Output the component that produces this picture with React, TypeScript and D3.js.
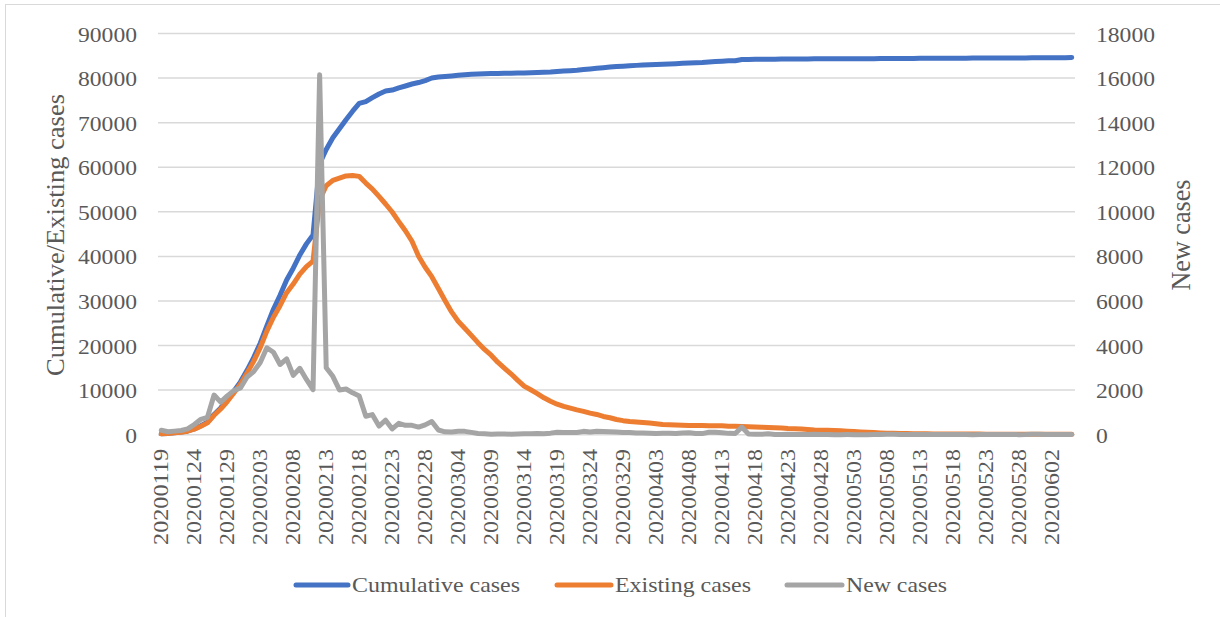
import React from "react";
import * as d3 from "d3";

// ---- data ----
const startDate = Date.UTC(2020, 0, 19);
const endDate = Date.UTC(2020, 5, 6);
const fmt = d3.utcFormat("%Y%m%d");
const categories: string[] = d3.utcDay.range(new Date(startDate), new Date(endDate)).map((d) => fmt(d));

const cumulativeCases = [
  200, 295, 445, 580, 845, 1300, 2000, 2775, 4550, 6010, 7760, 9750, 11860, 14450, 17290, 20530, 24430, 28130, 31290, 34690, 37350, 40330, 42810, 44830,
  60800, 64000, 66610, 68620, 70670, 72570, 74320, 74720, 75610, 76440, 77090, 77310, 77820, 78230, 78670, 79000, 79440, 80010, 80220,
  80350, 80480, 80620, 80770, 80870, 80920, 80970, 81000, 81030, 81060, 81090, 81120, 81160, 81200, 81250, 81290, 81360, 81470, 81570, 81670,
  81770, 81920, 82040, 82190, 82330, 82460, 82580, 82670, 82770, 82850, 82930, 83000, 83050, 83110, 83170, 83220, 83300, 83390, 83440, 83490,
  83600, 83710, 83800, 83860, 83900, 84160, 84190, 84210, 84220, 84240, 84250, 84260, 84275, 84285, 84295, 84305, 84320, 84325, 84335, 84340,
  84345, 84350, 84352, 84355, 84358, 84362, 84368, 84385, 84400, 84405, 84412, 84418, 84425, 84433, 84442, 84450, 84457, 84463, 84468, 84474,
  84477, 84485, 84495, 84502, 84507, 84511, 84517, 84520, 84526, 84545, 84562, 84570, 84574, 84583, 84587, 84594,
];

const existingCases = [
  200, 290, 420, 540, 790, 1230, 1900, 2650, 4350, 5760, 7450, 9350, 11350, 13850, 16450, 19550, 23250, 26350, 28950, 31850, 33800, 36000, 37700, 38950,
  52650, 55850, 57050, 57550, 58050, 58150, 57950, 56450, 55100, 53450, 51750, 49950, 47800, 45750, 43400, 40050, 37550, 35450, 32800,
  30100, 27550, 25450, 23880, 22280, 20640, 19130, 17840, 16270, 14960, 13660, 12240, 10890, 10070, 9220, 8270, 7500, 6850, 6350, 5950,
  5570, 5240, 4840, 4540, 4100, 3810, 3410, 3150, 2950, 2830, 2720, 2610, 2470, 2290, 2220, 2160, 2110, 2080, 2050, 2060,
  2000, 2020, 1980, 1910, 1900, 1830, 1790, 1720, 1680, 1620, 1560, 1500, 1390, 1350, 1290, 1180, 1070, 1010, 980, 930,
  860, 770, 700, 620, 540, 470, 400, 350, 300, 270, 250, 230, 210, 190, 180, 170, 160, 150, 145, 140,
  135, 130, 125, 120, 115, 110, 105, 100, 100, 95, 105, 105, 100, 100, 100, 100,
];

const newCases = [
  200, 130, 160, 190, 260, 460, 690, 780, 1780, 1460, 1740, 1980, 2100, 2590, 2830, 3240, 3900, 3700, 3150, 3400, 2660, 2980, 2480, 2020,
  16150, 3000, 2620, 2010, 2050, 1880, 1740, 830, 900, 390, 650, 260, 510, 420, 420, 340, 440, 590, 210,
  130, 125, 150, 150, 105, 55, 45, 25, 35, 30, 25, 30, 40, 40, 50, 40, 70, 110, 100, 100,
  100, 150, 120, 150, 140, 130, 120, 100, 100, 80, 80, 70, 50, 60, 60, 50, 80, 90, 50, 50,
  110, 110, 90, 60, 50, 340, 30, 20, 15, 40, 12, 10, 15, 12, 5, 8, 25, 5, 12, 3,
  3, 4, 3, 2, 3, 5, 6, 16, 18, 4, 9, 5, 6, 8, 12, 9, 8, 7, 5, 6,
  3, 8, 12, 9, 5, 4, 6, 3, 6, 20, 18, 8, 4, 9, 4, 7,
];

const leftTicks = [0, 10000, 20000, 30000, 40000, 50000, 60000, 70000, 80000, 90000];
const rightTicks = [0, 2000, 4000, 6000, 8000, 10000, 12000, 14000, 16000, 18000];
const xTickLabels = categories.filter((_, i) => i % 5 === 0);

const seriesNames = ["Cumulative cases", "Existing cases", "New cases"];
const seriesColors = ["#4472C4", "#ED7D31", "#A5A5A5"];

// ---- layout ----
const W = 1220;
const H = 617;
const plotL = 158;
const plotR = 1075;
const plotT = 33.5;
const plotB = 434.7;
const textColor = "#595959";
const font = "'Liberation Serif', 'Times New Roman', serif";

export default function App() {
  const x = d3.scalePoint<string>().domain(categories).range([plotL, plotR]).padding(0.5);
  const yL = d3.scaleLinear().domain([0, 90000]).range([plotB, plotT]);
  const yR = d3.scaleLinear().domain([0, 18000]).range([plotB, plotT]);

  const lineL = d3
    .line<number>()
    .x((_, i) => x(categories[i]) as number)
    .y((d) => yL(d));
  const lineR = d3
    .line<number>()
    .x((_, i) => x(categories[i]) as number)
    .y((d) => yR(d));

  const paths = [lineL(cumulativeCases), lineL(existingCases), lineR(newCases)];

  const legendItems = [
    { x1: 296, x2: 348, tx: 352, len: 168 },
    { x1: 557, x2: 611, tx: 615, len: 136 },
    { x1: 787, x2: 842, tx: 846, len: 101 },
  ];

  return (
    <svg
      width={W}
      height={H}
      style={{ position: "absolute", left: 0, top: 0, background: "#fff" }}
      fontFamily={font}
    >
      <rect x={0} y={0} width={W} height={H} fill="#fff" />
      <rect x={5.5} y={4.5} width={W + 20} height={H + 20} fill="none" stroke="#d9d9d9" strokeWidth={1} />

      {/* gridlines */}
      {leftTicks.map((t) => (
        <line key={"g" + t} x1={plotL} x2={plotR} y1={yL(t)} y2={yL(t)} stroke="#d9d9d9" strokeWidth={1.5} />
      ))}

      {/* left ticks */}
      {leftTicks.map((t) => {
        const s = String(t);
        return (
          <text
            key={"l" + t}
            x={137}
            y={yL(t) + 8}
            textAnchor="end"
            fontSize={22}
            fill={textColor}
            textLength={11.8 * s.length}
            lengthAdjust="spacingAndGlyphs"
          >
            {s}
          </text>
        );
      })}

      {/* right ticks */}
      {rightTicks.map((t) => {
        const s = String(t);
        return (
          <text
            key={"r" + t}
            x={1096}
            y={yR(t) + 8}
            textAnchor="start"
            fontSize={22}
            fill={textColor}
            textLength={11.8 * s.length}
            lengthAdjust="spacingAndGlyphs"
          >
            {s}
          </text>
        );
      })}

      {/* x tick labels */}
      {xTickLabels.map((c) => {
        const cx = x(c) as number;
        return (
          <text
            key={"x" + c}
            transform={`translate(${cx + 6.7},449) rotate(-90)`}
            textAnchor="end"
            fontSize={20}
            fill={textColor}
            textLength={96}
            lengthAdjust="spacingAndGlyphs"
          >
            {c}
          </text>
        );
      })}

      {/* axis titles */}
      <text
        transform={`translate(64,235) rotate(-90)`}
        textAnchor="middle"
        fontSize={25}
        fill={textColor}
        textLength={282}
        lengthAdjust="spacingAndGlyphs"
      >
        Cumulative/Existing cases
      </text>
      <text
        transform={`translate(1190,235) rotate(-90)`}
        textAnchor="middle"
        fontSize={27}
        fill={textColor}
        textLength={111}
        lengthAdjust="spacingAndGlyphs"
      >
        New cases
      </text>

      {/* series */}
      {paths.map((p, i) => (
        <path
          key={"s" + i}
          d={p || ""}
          fill="none"
          stroke={seriesColors[i]}
          strokeWidth={5}
          strokeLinejoin="round"
          strokeLinecap="round"
        />
      ))}

      {/* legend */}
      {legendItems.map((it, i) => (
        <g key={"lg" + i}>
          <line x1={it.x1} x2={it.x2} y1={585} y2={585} stroke={seriesColors[i]} strokeWidth={5} strokeLinecap="round" />
          <text
            x={it.tx}
            y={592}
            fontSize={21}
            fill={textColor}
            textLength={it.len}
            lengthAdjust="spacingAndGlyphs"
          >
            {seriesNames[i]}
          </text>
        </g>
      ))}
    </svg>
  );
}
